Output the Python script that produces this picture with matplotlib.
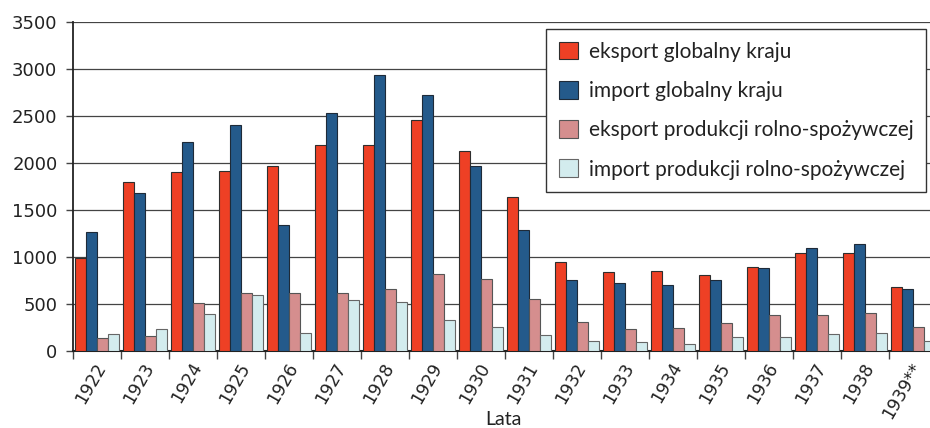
import matplotlib.pyplot as plt
import matplotlib.transforms as mtransforms
import numpy as np
from matplotlib.patches import Patch

years = ["1922", "1923", "1924", "1925", "1926", "1927", "1928", "1929", "1930",
         "1931", "1932", "1933", "1934", "1935", "1936", "1937", "1938", "1939**"]
eksport_glob = [990, 1800, 1905, 1915, 1968, 2200, 2195, 2464, 2131,
                1645, 950, 840, 851, 808, 901, 1046, 1043, 688]
import_glob = [1273, 1684, 2227, 2411, 1344, 2532, 2943, 2723, 1968,
               1287, 755, 727, 702, 755, 883, 1099, 1138, 667]
eksport_rolno = [138, 163, 511, 621, 621, 621, 663, 826, 770,
                 553, 312, 238, 248, 305, 390, 383, 408, 255]
import_rolno = [184, 241, 394, 603, 195, 543, 521, 337, 255,
                174, 110, 96, 82, 152, 149, 184, 199, 113]

series = [
    ("eksport globalny kraju", eksport_glob, "#EE4025", "#2e2e2e"),
    ("import globalny kraju", import_glob, "#245A8B", "#1e2a38"),
    ("eksport produkcji rolno-spożywczej", eksport_rolno, "#D58E8E", "#555555"),
    ("import produkcji rolno-spożywczej", import_rolno, "#D3ECEE", "#666666"),
]

W, H = 930, 428
fig = plt.figure(figsize=(W / 100, H / 100), dpi=100)
ax = fig.add_axes([72.7 / W, 1 - 351.3 / H, 864 / W, 329 / H])

x = np.arange(len(years))
bw = 11 / 48
for i, (label, vals, fc, ec) in enumerate(series):
    ax.bar(x + (i - 1.5) * bw, vals, width=bw, color=fc, edgecolor=ec,
           linewidth=0.8, zorder=3)

ax.set_xlim(-0.5, len(years) - 0.5)
ax.set_ylim(0, 3500)
ax.set_yticks(np.arange(0, 3501, 500))
ax.grid(axis="y", color="#444444", linewidth=0.9, zorder=0)
ax.set_axisbelow(True)

for side in ("top", "right"):
    ax.spines[side].set_visible(False)
ax.spines["left"].set_color("#222222")
ax.spines["left"].set_linewidth(1.3)
ax.spines["bottom"].set_color("#222222")
ax.spines["bottom"].set_linewidth(1.5)

num_font = dict(family="DejaVu Sans", color="#222222")
ax.tick_params(axis="y", length=5, width=1, color="#444444", pad=6,
               labelsize=13, labelcolor="#222222")
for t in ax.get_yticklabels():
    t.set_family("DejaVu Sans")

# ticks at group boundaries, labels at group centres
ax.set_xticks(np.arange(len(years) + 1) - 0.5)
ax.set_xticklabels([])
ax.tick_params(axis="x", which="major", length=6, width=1, color="#444444")
ax.set_xticks(x, minor=True)
ax.set_xticklabels(years, minor=True, rotation=60, ha="right", va="center",
                   rotation_mode="anchor", fontsize=12.5, **num_font)
ax.tick_params(axis="x", which="minor", length=0, pad=9)
shift = mtransforms.ScaledTranslation(5 / 100, 0, fig.dpi_scale_trans)
for t in ax.get_xticklabels(minor=True):
    t.set_transform(t.get_transform() + shift)

fig.text(503 / W, 3 / H, "Lata", ha="center", va="baseline",
         family="Lato", fontsize=14, color="#222222")

handles = [Patch(facecolor=fc, edgecolor=ec, linewidth=0.8, label=label)
           for label, _, fc, ec in series]
leg = fig.legend(handles=handles, loc="upper right",
                 bbox_to_anchor=(926 / W, 1 - 29 / H),
                 prop={"family": "Lato", "size": 15}, frameon=True,
                 fancybox=False, framealpha=1, edgecolor="#333333",
                 handlelength=0.95, handleheight=0.95, handletextpad=0.5,
                 labelspacing=0.92, borderpad=0.6, borderaxespad=0)
leg.get_frame().set_linewidth(1.0)
for t in leg.get_texts():
    t.set_color("#222222")

fig.savefig("out.png", dpi=100)
